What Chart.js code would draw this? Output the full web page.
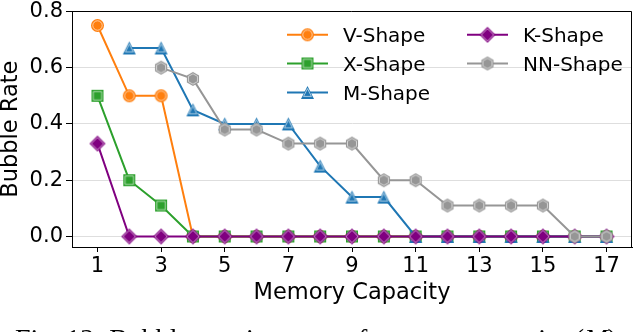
<!DOCTYPE html>
<html><head><meta charset="utf-8">
<script src="https://cdn.jsdelivr.net/npm/chart.js@4"></script>
<style>
html,body{margin:0;padding:0;width:640px;height:332px;overflow:hidden;background:#fff;}
#wrap{position:absolute;left:0;top:0;width:640px;height:332px;}
#caption{position:absolute;left:15px;top:325px;font:28px/28px "Liberation Serif","Times New Roman",serif;white-space:nowrap;color:#000;}
</style></head><body>
<div id="wrap"><canvas id="c" width="640" height="332"></canvas></div>
<div id="caption">Fig. 12: Bubble rate in terms of memory capacity (<i>M</i>).</div>
<script>
const capacities = [1,2,3,4,5,6,7,8,9,10,11,12,13,14,15,16,17];
const vShape  = [0.75,0.5,0.5,0,0,0,0,0,0,0,0,0,0,0,0,0,0];
const xShape  = [0.5,0.2,0.11,0,0,0,0,0,0,0,0,0,0,0,0,0,0];
const mShape  = [null,0.67,0.67,0.45,0.4,0.4,0.4,0.25,0.14,0.14,0,0,0,0,0,0,0];
const kShape  = [0.33,0,0,0,0,0,0,0,0,0,0,0,0,0,0,0,0];
const nnShape = [null,null,0.6,0.56,0.38,0.38,0.33,0.33,0.33,0.2,0.2,0.11,0.11,0.11,0.11,0,0];
const seriesNames = ['V-Shape','X-Shape','M-Shape','K-Shape','NN-Shape'];
const xTicks = [1,3,5,7,9,11,13,15,17];
const yTicks = [0,0.2,0.4,0.6,0.8];

function markerCanvas(shape, color, r){
  const s = Math.ceil(2*r+4);
  const c = document.createElement('canvas'); c.width = s; c.height = s;
  const g = c.getContext('2d'); const cx = s/2, cy = s/2;
  function path(rr){
    g.beginPath();
    if (shape==='circle') g.arc(cx,cy,rr,0,Math.PI*2);
    else if (shape==='square') g.rect(cx-rr,cy-rr,2*rr,2*rr);
    else if (shape==='triangle'){ g.moveTo(cx,cy-rr); g.lineTo(cx+rr,cy+rr); g.lineTo(cx-rr,cy+rr); g.closePath(); }
    else if (shape==='diamond'){ g.moveTo(cx,cy-rr); g.lineTo(cx+rr,cy); g.lineTo(cx,cy+rr); g.lineTo(cx-rr,cy); g.closePath(); }
    else if (shape==='hexagon'){ for(let i=0;i<6;i++){ const a=-Math.PI/2+i*Math.PI/3; const px=cx+rr*Math.cos(a), py=cy+rr*Math.sin(a); if(i===0) g.moveTo(px,py); else g.lineTo(px,py);} g.closePath(); }
  }
  path(r); g.fillStyle = color; g.fill();
  path(r - (shape==='triangle'?2.6:1.8)); g.strokeStyle = 'rgba(255,255,255,0.6)'; g.lineWidth = 1; g.stroke();
  return c;
}

const styles = [
  {color:'#ff7f0e', shape:'circle', r:6.5},
  {color:'#2ca02c', shape:'square', r:6},
  {color:'#1f77b4', shape:'triangle', r:6.5},
  {color:'#800080', shape:'diamond', r:8},
  {color:'#969696', shape:'hexagon', r:7}
];
const allSeries = [vShape, xShape, mShape, kShape, nnShape];
const markers = styles.map(s => markerCanvas(s.shape, s.color, s.r));

const datasets = allSeries.map((vals, i) => ({
  label: seriesNames[i],
  data: capacities.map((x, j) => ({x: x, y: vals[j]})).filter(p => p.y !== null),
  borderColor: styles[i].color,
  backgroundColor: styles[i].color,
  borderWidth: 2,
  pointStyle: markers[i],
  pointRadius: 6,
  tension: 0,
  order: allSeries.length - i
}));

const legendPlugin = {
  id: 'customLegend',
  afterDraw(chart){
    const ctx = chart.ctx;
    ctx.save();
    ctx.font = '20px "DejaVu Sans"';
    ctx.fillStyle = '#000';
    ctx.textBaseline = 'alphabetic';
    const cols = [{lx:287, tx:343}, {lx:467, tx:523}];
    const baselines = [42.3, 71, 100];
    seriesNames.forEach((name, i) => {
      const col = cols[Math.floor(i/3)];
      const by = baselines[i%3];
      const ly = by - 7.5;
      ctx.strokeStyle = styles[i].color; ctx.lineWidth = 2;
      ctx.beginPath(); ctx.moveTo(col.lx, ly); ctx.lineTo(col.lx+41, ly); ctx.stroke();
      const m = markers[i];
      ctx.drawImage(m, col.lx+20.5-m.width/2, ly-m.height/2);
      ctx.fillText(name, col.tx, by);
    });
    ctx.restore();
  },
  afterDatasetsDraw(chart){
    const {ctx, chartArea:a} = chart;
    ctx.save();
    ctx.strokeStyle = '#000'; ctx.lineWidth = 1;
    ctx.beginPath();
    ctx.moveTo(a.left, Math.round(a.top)+0.5);
    ctx.lineTo(Math.round(a.right)-0.5, Math.round(a.top)+0.5);
    ctx.lineTo(Math.round(a.right)-0.5, a.bottom);
    ctx.stroke();
    ctx.restore();
  }
};

new Chart(document.getElementById('c'), {
  type: 'line',
  data: {datasets},
  plugins: [legendPlugin],
  options: {
    responsive: false,
    animation: false,
    layout: {padding: {left: 0, right: 4, top: 9, bottom: 28}},
    plugins: {legend: {display: false}, tooltip: {enabled: false}},
    scales: {
      x: {
        type: 'linear', min: 0.2, max: 17.8,
        afterBuildTicks: s => { s.ticks = xTicks.map(v => ({value: v})); },
        afterFit: s => { s.height = 57; },
        grid: {drawOnChartArea: false, drawTicks: true, tickLength: 5, tickColor: '#000', tickWidth: 1},
        border: {color: '#000', width: 1},
        ticks: {font: {family: 'DejaVu Sans', size: 21, lineHeight: 1}, color: '#000', padding: 4, maxRotation: 0, autoSkip: false, callback: v => String(v)},
        title: {display: true, text: 'Memory Capacity', font: {family: 'DejaVu Sans', size: 22.5, lineHeight: 1}, color: '#000', padding: {top: 0, bottom: 0}}
      },
      y: {
        min: -0.0375, max: 0.8,
        afterBuildTicks: s => { s.ticks = yTicks.map(v => ({value: v})); },
        afterFit: s => { s.width = 72; },
        grid: {color: '#dedede', lineWidth: 1, drawTicks: true, tickLength: 6, tickColor: '#000', tickWidth: 1},
        border: {color: '#000', width: 1},
        ticks: {font: {family: 'DejaVu Sans', size: 21, lineHeight: 0.8}, color: '#000', padding: 3, callback: v => v.toFixed(1)},
        title: {display: true, text: 'Bubble Rate', font: {family: 'DejaVu Sans', size: 22.5, lineHeight: 1}, color: '#000', padding: {top: 0, bottom: 0}}
      }
    }
  }
});
</script>
</body></html>
